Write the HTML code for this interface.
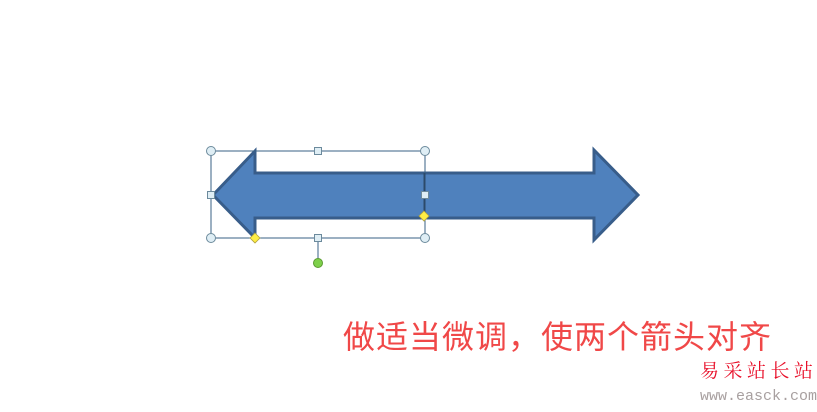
<!DOCTYPE html>
<html><head><meta charset="utf-8"><style>
body{margin:0;width:817px;height:412px;background:#fff;overflow:hidden;position:relative}
.t{position:absolute;white-space:nowrap}
</style></head><body>
<svg width="817" height="412" style="position:absolute;left:0;top:0">
<polygon points="213,195 255,151 255,173 594,173 594,150 638,195 594,240 594,218 255,218 255,238" fill="#4f81bd" stroke="#385d8a" stroke-width="3" stroke-linejoin="miter"/>
<rect x="211" y="151" width="214" height="87" fill="none" stroke="#3a6186" stroke-width="1"/>
<line x1="424.5" y1="173" x2="424.5" y2="218" stroke="#2c4a6a" stroke-width="2"/>
<line x1="318" y1="238" x2="318" y2="262" stroke="#3a6186"/>
<g fill="#dfeef5" stroke="#6c8a9c" stroke-width="1">
<circle cx="211" cy="151" r="4.5"/><circle cx="425" cy="151" r="4.5"/>
<circle cx="211" cy="238" r="4.5"/><circle cx="425" cy="238" r="4.5"/>
<rect x="314.5" y="147.5" width="7" height="7"/><rect x="314.5" y="234.5" width="7" height="7"/>
<rect x="207.5" y="191.5" width="7" height="7"/><rect x="421.5" y="191.5" width="7" height="7"/>
</g>
<circle cx="318" cy="263" r="4.5" fill="#7ed04a" stroke="#5a9a30"/>
<g fill="#ffee44" stroke="#b0a040" stroke-width="0.8">
<polygon points="255,233 260,238 255,243 250,238"/>
<polygon points="424,211 429,216 424,221 419,216"/>
</g>
</svg>
<div class="t" style="left:343px;top:312px;font:32px 'Liberation Sans','Noto Sans CJK SC',sans-serif;color:#f04848;letter-spacing:1px">做适当微调，使两个箭头对齐</div>
<div class="t" style="left:700px;top:356px;font:19px 'Liberation Serif','Noto Serif CJK SC',serif;color:#e8102a;letter-spacing:4.5px">易采站长站</div>
<div class="t" style="left:700px;top:388px;font:15px 'Liberation Mono',monospace;color:#a8a0a0">www.easck.com</div>
</body></html>
